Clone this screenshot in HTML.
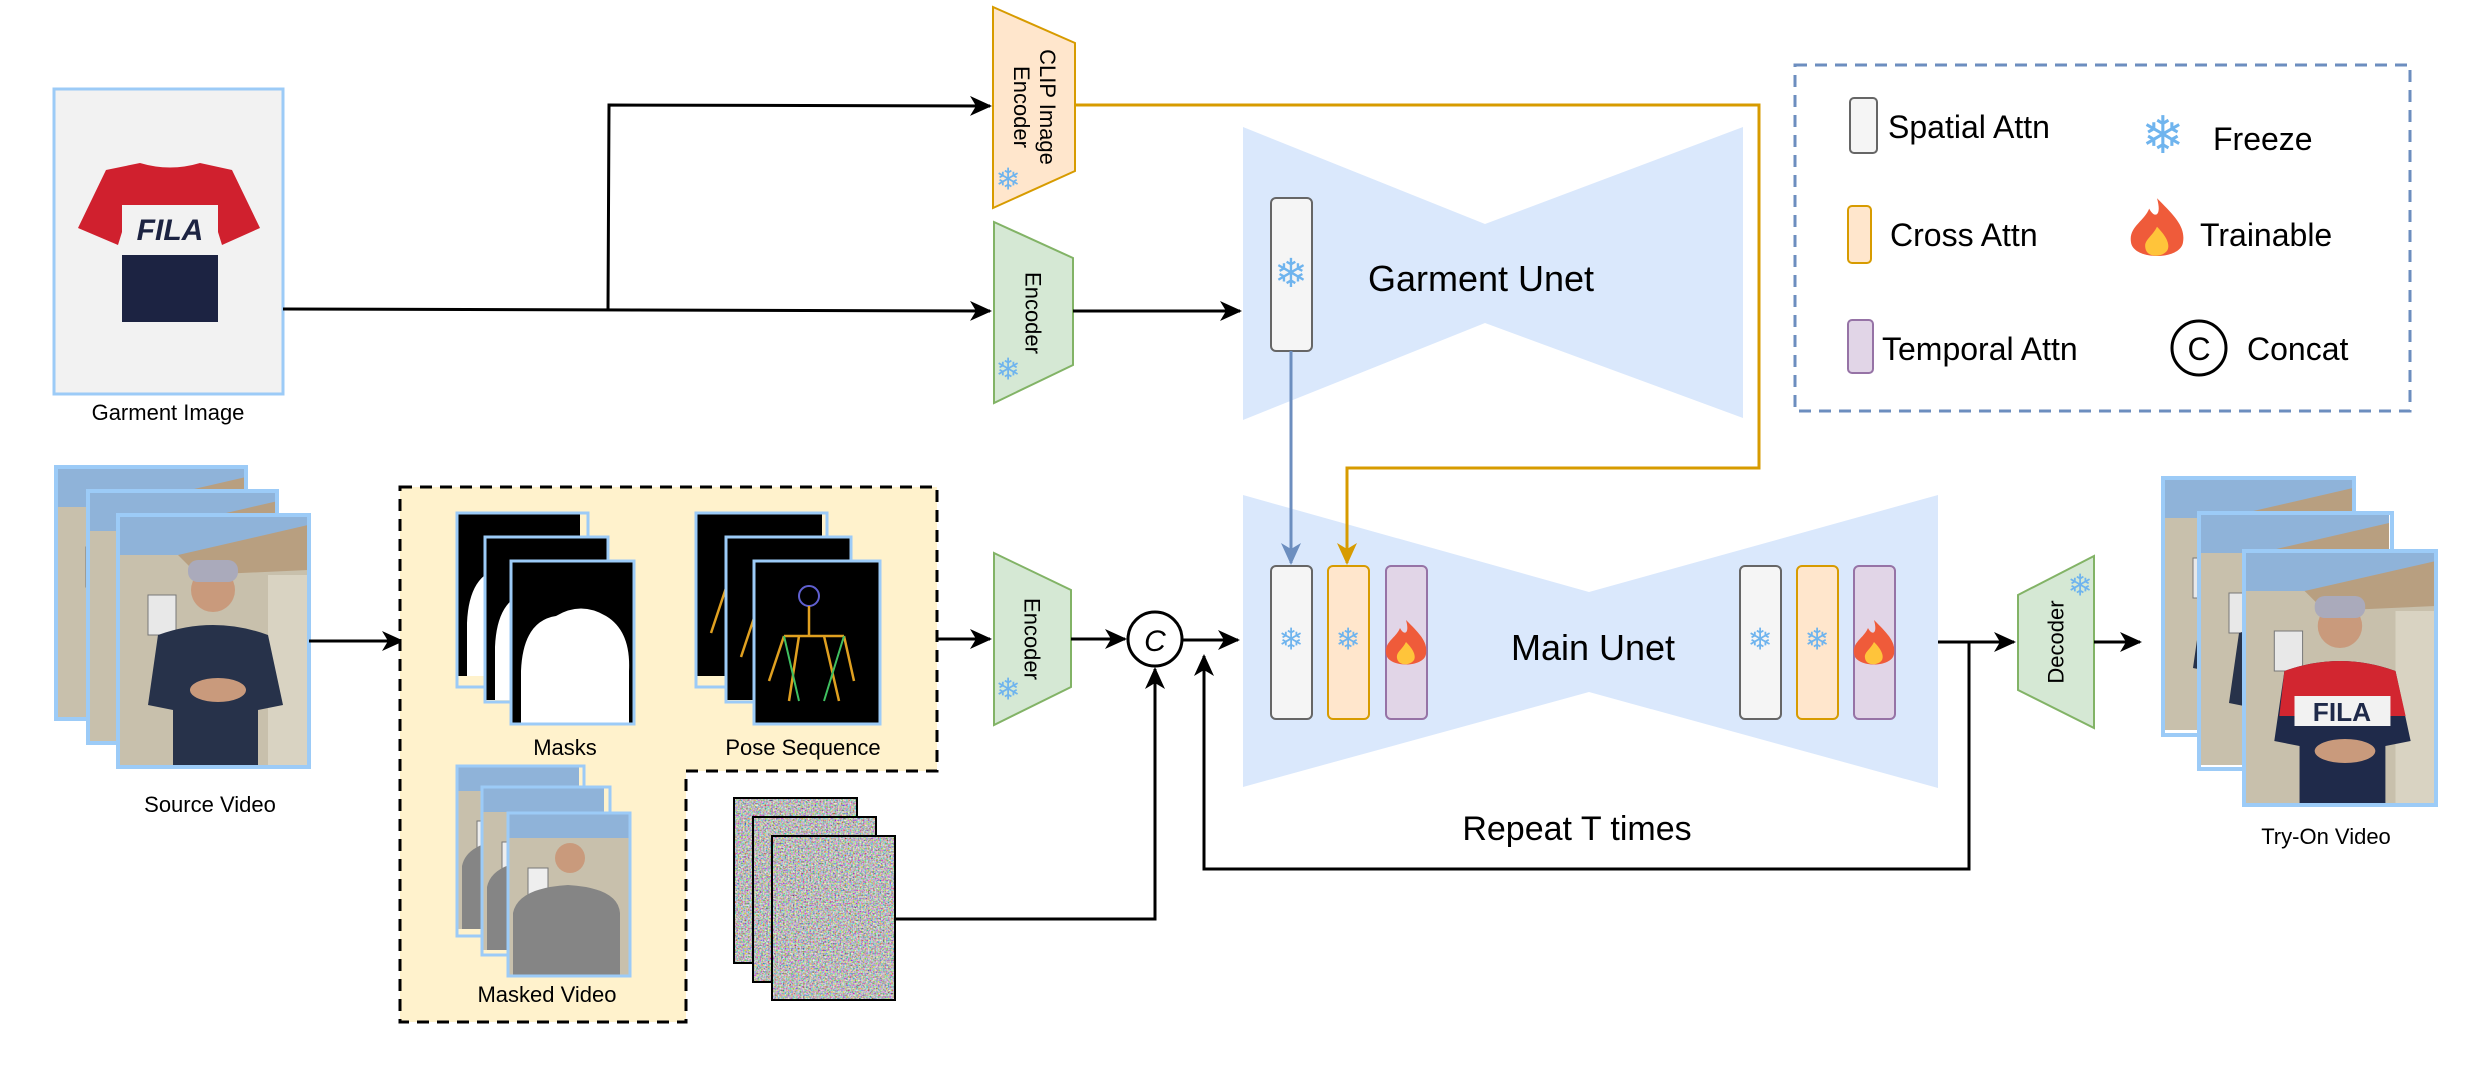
<!DOCTYPE html>
<html><head><meta charset="utf-8"><style>
html,body{margin:0;padding:0;background:#fff;}
svg{display:block;}
text{font-family:"Liberation Sans",sans-serif;fill:#000;}
</style></head><body>
<svg width="2492" height="1079" viewBox="0 0 2492 1079" xmlns="http://www.w3.org/2000/svg">
<defs>
<marker id="ab2" markerWidth="22" markerHeight="20" refX="20" refY="10" orient="auto" markerUnits="userSpaceOnUse"><path d="M0,0 L22,10 L0,20 L6,10 z" fill="#000"/></marker>
<marker id="ablue" markerWidth="22" markerHeight="20" refX="20" refY="10" orient="auto" markerUnits="userSpaceOnUse"><path d="M0,0 L22,10 L0,20 L6,10 z" fill="#6c8ebf"/></marker>
<marker id="aor" markerWidth="22" markerHeight="20" refX="20" refY="10" orient="auto" markerUnits="userSpaceOnUse"><path d="M0,0 L22,10 L0,20 L6,10 z" fill="#d79b00"/></marker>
<filter id="noise" x="0" y="0" width="100%" height="100%"><feTurbulence type="fractalNoise" baseFrequency="0.6" numOctaves="2" seed="3"/><feColorMatrix type="matrix" values="1.6 0 0 0 -0.3  0 1.6 0 0 -0.3  0 0 1.6 0 -0.3  0 0 0 0 1"/></filter>
<g id="vid">
 <rect x="0" y="0" width="190" height="252" fill="#c8c0ac"/>
 <rect x="0" y="0" width="190" height="40" fill="#8fb3d9"/>
 <polygon points="60,40 190,10 190,55 80,60" fill="#b89f80"/>
 <rect x="30" y="80" width="28" height="40" fill="#e8e8e8" stroke="#777"/>
 <rect x="150" y="60" width="40" height="192" fill="#d9d3c2"/>
 <circle cx="95" cy="75" r="22" fill="#c99a7c"/>
 <rect x="70" y="45" width="50" height="22" rx="10" fill="#aab"/>
 <path d="M40,120 Q95,100 150,120 L165,190 L140,195 L140,252 L55,252 L55,195 L30,190 Z" fill="#27324a"/>
 <ellipse cx="100" cy="175" rx="28" ry="12" fill="#c99a7c"/>
</g>
<g id="tryon">
 <rect x="0" y="0" width="190" height="252" fill="#c8c0ac"/>
 <rect x="0" y="0" width="190" height="40" fill="#8fb3d9"/>
 <polygon points="60,40 190,10 190,55 80,60" fill="#b89f80"/>
 <rect x="30" y="80" width="28" height="40" fill="#e8e8e8" stroke="#777"/>
 <rect x="150" y="60" width="40" height="192" fill="#d9d3c2"/>
 <circle cx="95" cy="75" r="22" fill="#c99a7c"/>
 <rect x="70" y="45" width="50" height="22" rx="10" fill="#aab"/>
 <path d="M40,120 Q95,100 150,120 L165,190 L140,195 L140,252 L55,252 L55,195 L30,190 Z" fill="#1f2a4a"/>
 <path d="M40,120 Q95,100 150,120 L160,165 L35,165 Z" fill="#d22630"/>
 <rect x="50" y="145" width="95" height="30" fill="#f2f2f2"/>
 <text x="97" y="170" text-anchor="middle" font-size="26" font-weight="bold" style="fill:#1f2a4a">FILA</text>
 <ellipse cx="100" cy="200" rx="30" ry="12" fill="#c99a7c"/>
</g>
<g id="mask">
 <rect x="0" y="0" width="123" height="163" fill="#000"/>
 <path d="M10,163 L10,110 Q12,60 45,55 Q70,40 95,55 Q120,70 118,110 L118,163 Z" fill="#fff"/>
</g>
<g id="pose">
 <rect x="0" y="0" width="126" height="163" fill="#000"/>
 <circle cx="55" cy="35" r="10" fill="none" stroke="#6060d0" stroke-width="2"/>
 <path d="M30,75 L90,75 M55,45 L55,75 M30,75 L15,120 M90,75 L100,120 M45,75 L35,140 M70,75 L85,140" stroke="#e0a020" stroke-width="2.5" fill="none"/>
 <path d="M30,75 L45,140 M90,75 L70,140" stroke="#40c060" stroke-width="2" fill="none"/>
</g>
<g id="masked">
 <rect x="0" y="0" width="122" height="163" fill="#c8c0ac"/>
 <rect x="0" y="0" width="122" height="25" fill="#8fb3d9"/>
 <rect x="20" y="55" width="20" height="28" fill="#eee" stroke="#777"/>
 <circle cx="62" cy="45" r="15" fill="#c99a7c"/>
 <path d="M5,163 L5,100 Q10,75 60,72 Q110,75 112,100 L112,163 Z" fill="#858585"/>
</g>
<g id="snow">
 <text x="0" y="0" text-anchor="middle" dominant-baseline="central" font-size="30" style="fill:#6fb4ee;font-family:'DejaVu Sans',sans-serif">❄</text>
</g>
<g id="fire">
 <path d="M0,-26 C14,-12 22,-4 20,8 C18,22 -18,22 -20,8 C-22,-4 -10,-8 -6,-18 C-2,-10 4,-12 0,-26 Z" fill="#ef5b3a"/>
 <path d="M0,-4 C8,4 10,10 8,14 C4,20 -8,20 -9,12 C-10,6 -4,4 0,-4 Z" fill="#ffc43a"/>
</g>
</defs>

<!-- Garment image -->
<rect x="54" y="89" width="229" height="305" fill="#f2f2f2" stroke="#9ccbf7" stroke-width="3"/>
<path d="M140,163 Q170,172 200,163 L232,170 L260,228 L222,245 L218,232 L218,322 L122,322 L122,232 L118,245 L78,228 L106,170 Z" fill="#d0202e"/>
<path d="M122,255 L218,255 L218,322 L122,322 Z" fill="#1c2342"/>
<rect x="122" y="205" width="96" height="50" fill="#f2f2f2"/>
<text x="170" y="240" text-anchor="middle" font-size="30" font-weight="bold" style="fill:#1c2342" font-style="italic">FILA</text>
<text x="168" y="420" text-anchor="middle" font-size="22">Garment Image</text>

<!-- garment lines -->
<path d="M283,309 L990,311" stroke="#000" stroke-width="3" fill="none" marker-end="url(#ab2)"/>
<path d="M608,310 L609,105 L990,106" stroke="#000" stroke-width="3" fill="none" marker-end="url(#ab2)"/>

<!-- CLIP encoder -->
<polygon points="993,7 1075,43 1075,171 993,208" fill="#ffe6cc" stroke="#d79b00" stroke-width="2"/>
<text transform="translate(1034,107) rotate(90)" text-anchor="middle" font-size="22"><tspan x="0" y="-6">CLIP Image</tspan><tspan x="0" y="20">Encoder</tspan></text>
<use href="#snow" x="1008" y="180"/>

<!-- Encoder 1 -->
<polygon points="994,222 1073,258 1073,365 994,403" fill="#d5e8d4" stroke="#82b366" stroke-width="2"/>
<text transform="translate(1033,313) rotate(90)" text-anchor="middle" dominant-baseline="central" font-size="22">Encoder</text>
<use href="#snow" x="1008" y="370"/>
<path d="M1073,311 L1240,311" stroke="#000" stroke-width="3" fill="none" marker-end="url(#ab2)"/>

<!-- Garment Unet -->
<polygon points="1243,127 1485,224 1743,127 1743,418 1485,323 1243,420" fill="#dae8fc"/>
<rect x="1271" y="198" width="41" height="153" rx="5" fill="#f5f5f5" stroke="#666" stroke-width="2"/>
<text x="1291" y="274" text-anchor="middle" dominant-baseline="central" font-size="40" style="fill:#6fb4ee;font-family:'DejaVu Sans',sans-serif">❄</text>
<text x="1481" y="291" text-anchor="middle" font-size="36">Garment Unet</text>

<!-- Main Unet -->
<polygon points="1243,495 1589,592 1938,495 1938,788 1589,692 1243,787" fill="#dae8fc"/>

<!-- orange line -->
<path d="M1075,105 L1759,105 L1759,468 L1347,468 L1347,563" stroke="#d79b00" stroke-width="3" fill="none" marker-end="url(#aor)"/>
<!-- blue arrow -->
<path d="M1291,351 L1291,563" stroke="#6c8ebf" stroke-width="3" fill="none" marker-end="url(#ablue)"/>

<rect x="1271" y="566" width="41" height="153" rx="5" fill="#f5f5f5" stroke="#666" stroke-width="2"/>
<rect x="1328" y="566" width="41" height="153" rx="5" fill="#ffe6cc" stroke="#d79b00" stroke-width="2"/>
<rect x="1386" y="566" width="41" height="153" rx="5" fill="#e1d5e7" stroke="#9673a6" stroke-width="2"/>
<rect x="1740" y="566" width="41" height="153" rx="5" fill="#f5f5f5" stroke="#666" stroke-width="2"/>
<rect x="1797" y="566" width="41" height="153" rx="5" fill="#ffe6cc" stroke="#d79b00" stroke-width="2"/>
<rect x="1854" y="566" width="41" height="153" rx="5" fill="#e1d5e7" stroke="#9673a6" stroke-width="2"/>
<use href="#snow" x="1291" y="640"/>
<use href="#snow" x="1348" y="640"/>
<use href="#snow" x="1760" y="640"/>
<use href="#snow" x="1817" y="640"/>
<use href="#fire" x="1406" y="646"/>
<use href="#fire" x="1874" y="646"/>
<text x="1593" y="660" text-anchor="middle" font-size="36">Main Unet</text>

<!-- output & feedback -->
<path d="M1938,642 L2014,642" stroke="#000" stroke-width="3" fill="none" marker-end="url(#ab2)"/>
<path d="M1969,642 L1969,869 L1204,869 L1204,656" stroke="#000" stroke-width="3" fill="none" marker-end="url(#ab2)"/>
<text x="1577" y="840" text-anchor="middle" font-size="34">Repeat T times</text>

<!-- Decoder -->
<polygon points="2018,595 2094,556 2094,728 2018,690" fill="#d5e8d4" stroke="#82b366" stroke-width="2"/>
<text transform="translate(2056,642) rotate(-90)" text-anchor="middle" dominant-baseline="central" font-size="22">Decoder</text>
<use href="#snow" x="2080" y="586"/>
<path d="M2094,642 L2140,642" stroke="#000" stroke-width="3" fill="none" marker-end="url(#ab2)"/>

<!-- Try-on video -->
<g><use href="#vid" transform="translate(2163,478)"/><rect x="2163" y="478" width="191" height="257" fill="none" stroke="#9ccbf7" stroke-width="4"/></g>
<g><use href="#vid" transform="translate(2199,513)"/><rect x="2199" y="513" width="193" height="256" fill="none" stroke="#9ccbf7" stroke-width="4"/></g>
<g><use href="#tryon" transform="translate(2244,551) scale(1.01,1)"/><rect x="2244" y="551" width="192" height="254" fill="none" stroke="#9ccbf7" stroke-width="4"/></g>
<text x="2326" y="844" text-anchor="middle" font-size="22">Try-On Video</text>

<!-- Legend -->
<rect x="1795" y="65" width="615" height="346" fill="none" stroke="#6c8ebf" stroke-width="3" stroke-dasharray="12,8"/>
<rect x="1850" y="98" width="27" height="55" rx="4" fill="#f5f5f5" stroke="#666" stroke-width="2"/>
<text x="1888" y="138" font-size="32">Spatial Attn</text>
<text x="2163" y="136" text-anchor="middle" dominant-baseline="central" font-size="52" style="fill:#6fb4ee;font-family:'DejaVu Sans',sans-serif">❄</text>
<text x="2213" y="150" font-size="32">Freeze</text>
<rect x="1848" y="206" width="23" height="57" rx="4" fill="#ffe6cc" stroke="#d79b00" stroke-width="2"/>
<text x="1890" y="246" font-size="32">Cross Attn</text>
<use href="#fire" transform="translate(2157,232) scale(1.3)"/>
<text x="2200" y="246" font-size="32">Trainable</text>
<rect x="1848" y="320" width="25" height="53" rx="4" fill="#e1d5e7" stroke="#9673a6" stroke-width="2"/>
<text x="1882" y="360" font-size="32">Temporal Attn</text>
<circle cx="2199" cy="348" r="27" fill="#fff" stroke="#000" stroke-width="3"/>
<text x="2199" y="360" text-anchor="middle" font-size="32">C</text>
<text x="2247" y="360" font-size="32">Concat</text>

<!-- Source video -->
<g><use href="#vid" transform="translate(56,467)"/><rect x="56" y="467" width="190" height="252" fill="none" stroke="#9ccbf7" stroke-width="4"/></g>
<g><use href="#vid" transform="translate(88,491)"/><rect x="88" y="491" width="189" height="252" fill="none" stroke="#9ccbf7" stroke-width="4"/></g>
<g><use href="#vid" transform="translate(118,515)"/><rect x="118" y="515" width="191" height="252" fill="none" stroke="#9ccbf7" stroke-width="4"/></g>
<text x="210" y="812" text-anchor="middle" font-size="22">Source Video</text>
<path d="M309,641 L402,641" stroke="#000" stroke-width="3" fill="none" marker-end="url(#ab2)"/>

<!-- dashed condition region -->
<path d="M400,487 L937,487 L937,771 L686,771 L686,1022 L400,1022 Z" fill="#fff2cc" stroke="#000" stroke-width="3" stroke-dasharray="12,8"/>
<g><use href="#mask" transform="translate(457,513)"/><rect x="457" y="513" width="131" height="174" fill="none" stroke="#9ccbf7" stroke-width="3"/></g>
<g><use href="#mask" transform="translate(485,537)"/><rect x="485" y="537" width="123" height="165" fill="none" stroke="#9ccbf7" stroke-width="3"/></g>
<g><use href="#mask" transform="translate(511,561)"/><rect x="511" y="561" width="123" height="163" fill="none" stroke="#9ccbf7" stroke-width="3"/></g>
<text x="565" y="755" text-anchor="middle" font-size="22">Masks</text>
<g><use href="#pose" transform="translate(696,513)"/><rect x="696" y="513" width="131" height="174" fill="none" stroke="#9ccbf7" stroke-width="3"/></g>
<g><use href="#pose" transform="translate(726,537)"/><rect x="726" y="537" width="125" height="165" fill="none" stroke="#9ccbf7" stroke-width="3"/></g>
<g><use href="#pose" transform="translate(754,561)"/><rect x="754" y="561" width="126" height="163" fill="none" stroke="#9ccbf7" stroke-width="3"/></g>
<text x="803" y="755" text-anchor="middle" font-size="22">Pose Sequence</text>
<g><use href="#masked" transform="translate(457,766)"/><rect x="457" y="766" width="127" height="170" fill="none" stroke="#9ccbf7" stroke-width="3"/></g>
<g><use href="#masked" transform="translate(482,787)"/><rect x="482" y="787" width="128" height="168" fill="none" stroke="#9ccbf7" stroke-width="3"/></g>
<g><use href="#masked" transform="translate(508,813)"/><rect x="508" y="813" width="122" height="163" fill="none" stroke="#9ccbf7" stroke-width="3"/></g>
<text x="547" y="1002" text-anchor="middle" font-size="22">Masked Video</text>

<!-- noise -->
<rect x="734" y="798" width="123" height="165" fill="#888" filter="url(#noise)"/>
<rect x="734" y="798" width="123" height="165" fill="none" stroke="#000" stroke-width="2"/>
<rect x="753" y="817" width="123" height="165" fill="#888" filter="url(#noise)"/>
<rect x="753" y="817" width="123" height="165" fill="none" stroke="#000" stroke-width="2"/>
<rect x="772" y="836" width="123" height="164" fill="#888" filter="url(#noise)"/>
<rect x="772" y="836" width="123" height="164" fill="none" stroke="#000" stroke-width="2"/>
<path d="M895,919 L1155,919 L1155,669" stroke="#000" stroke-width="3" fill="none" marker-end="url(#ab2)"/>

<!-- Encoder 2 -->
<path d="M937,639 L990,639" stroke="#000" stroke-width="3" fill="none" marker-end="url(#ab2)"/>
<polygon points="994,553 1071,590 1071,687 994,725" fill="#d5e8d4" stroke="#82b366" stroke-width="2"/>
<text transform="translate(1032,639) rotate(90)" text-anchor="middle" dominant-baseline="central" font-size="22">Encoder</text>
<use href="#snow" x="1008" y="690"/>
<path d="M1071,639 L1125,639" stroke="#000" stroke-width="3" fill="none" marker-end="url(#ab2)"/>
<circle cx="1155" cy="639" r="27" fill="#fff" stroke="#000" stroke-width="3"/>
<text x="1155" y="651" text-anchor="middle" font-size="30" font-style="italic">C</text>
<path d="M1183,640 L1238,640" stroke="#000" stroke-width="3" fill="none" marker-end="url(#ab2)"/>
</svg>
</body></html>
